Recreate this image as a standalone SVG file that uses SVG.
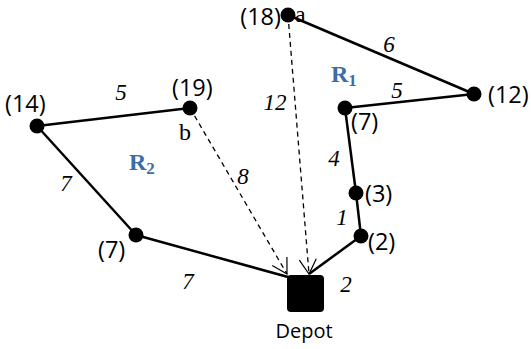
<svg xmlns="http://www.w3.org/2000/svg" width="531" height="349" viewBox="0 0 531 349">
<style>
.edge{stroke:#000;stroke-width:2.5;fill:none}
.dash{stroke:#000;stroke-width:1.3;fill:none;stroke-dasharray:5,4}
.node{fill:#000}
.lbl{font-family:"Open Sans","Noto Sans",sans-serif;font-size:23.5px;fill:#000}
.dep{font-family:"Open Sans","Noto Sans",sans-serif;font-size:20px;fill:#000;text-anchor:middle}
.w{font-family:"Liberation Serif",serif;font-style:italic;font-size:23px;fill:#000;text-anchor:middle}
.ab{font-family:"Liberation Serif",serif;font-size:24px;fill:#000}
.r{font-family:"Liberation Serif",serif;font-weight:bold;font-size:24px;fill:#3a6ea8}
</style>
<defs>
<marker id="arr" markerUnits="userSpaceOnUse" viewBox="0 0 17 20" refX="16" refY="10" markerWidth="17" markerHeight="20" orient="auto">
<path d="M1.3,1.5 L16,10 L1.3,18.5" fill="none" stroke="#000" stroke-width="1.2"/>
</marker>
</defs>
<g id="connectors">
<line class="edge" x1="288" y1="15" x2="474" y2="94"/>
<line class="edge" x1="474" y1="94" x2="345" y2="108"/>
<line class="edge" x1="345" y1="108" x2="356" y2="193"/>
<line class="edge" x1="356" y1="193" x2="361" y2="236"/>
<line class="edge" x1="361" y1="236" x2="309" y2="274"/>
<line class="edge" x1="37" y1="126" x2="190" y2="108"/>
<line class="edge" x1="37" y1="126" x2="136" y2="235"/>
<line class="edge" x1="136" y1="235" x2="288" y2="277"/>
<line class="dash" x1="288" y1="15" x2="309" y2="274" marker-end="url(#arr)"/>
<line class="dash" x1="190" y1="108" x2="287" y2="274" marker-end="url(#arr)"/>
<text class="w" x="389" y="52">6</text>
<text class="w" x="397" y="98">5</text>
<text class="w" x="275" y="110">12</text>
<text class="w" x="334" y="166">4</text>
<text class="w" x="342" y="225">1</text>
<text class="w" x="346" y="292">2</text>
<text class="w" x="188" y="289">7</text>
<text class="w" x="243" y="184">8</text>
<text class="w" x="66" y="191">7</text>
<text class="w" x="121" y="100">5</text>
</g>
<g id="node-a">
<circle class="node" cx="288" cy="15" r="7.5"/>
<text class="lbl" x="281" y="25" text-anchor="end">(18)</text>
<text class="ab" x="295" y="22">a</text>
</g>
<g id="node-12">
<circle class="node" cx="474" cy="94" r="7.5"/>
<text class="lbl" x="488" y="103">(12)</text>
</g>
<g id="node-7r">
<circle class="node" cx="345" cy="108" r="7.5"/>
<text class="lbl" x="351" y="130">(7)</text>
</g>
<g id="node-3">
<circle class="node" cx="356" cy="193" r="7.5"/>
<text class="lbl" x="365" y="202">(3)</text>
</g>
<g id="node-2">
<circle class="node" cx="361" cy="236" r="7.5"/>
<text class="lbl" x="368" y="250">(2)</text>
</g>
<g id="node-14">
<circle class="node" cx="37" cy="126" r="7.5"/>
<text class="lbl" x="5" y="112">(14)</text>
</g>
<g id="node-b">
<circle class="node" cx="190" cy="108" r="7.5"/>
<text class="lbl" x="172" y="96">(19)</text>
<text class="ab" x="179" y="140">b</text>
</g>
<g id="node-7l">
<circle class="node" cx="136" cy="235" r="7.5"/>
<text class="lbl" x="98" y="258">(7)</text>
</g>
<g id="depot">
<rect x="287" y="275" width="37" height="37" rx="4" fill="#000"/>
<text class="dep" x="304" y="338">Depot</text>
</g>
<g id="region-labels">
<text class="r" x="331" y="82">R<tspan font-size="17" dy="4">1</tspan></text>
<text class="r" x="129" y="170">R<tspan font-size="17" dy="4">2</tspan></text>
</g>
</svg>
